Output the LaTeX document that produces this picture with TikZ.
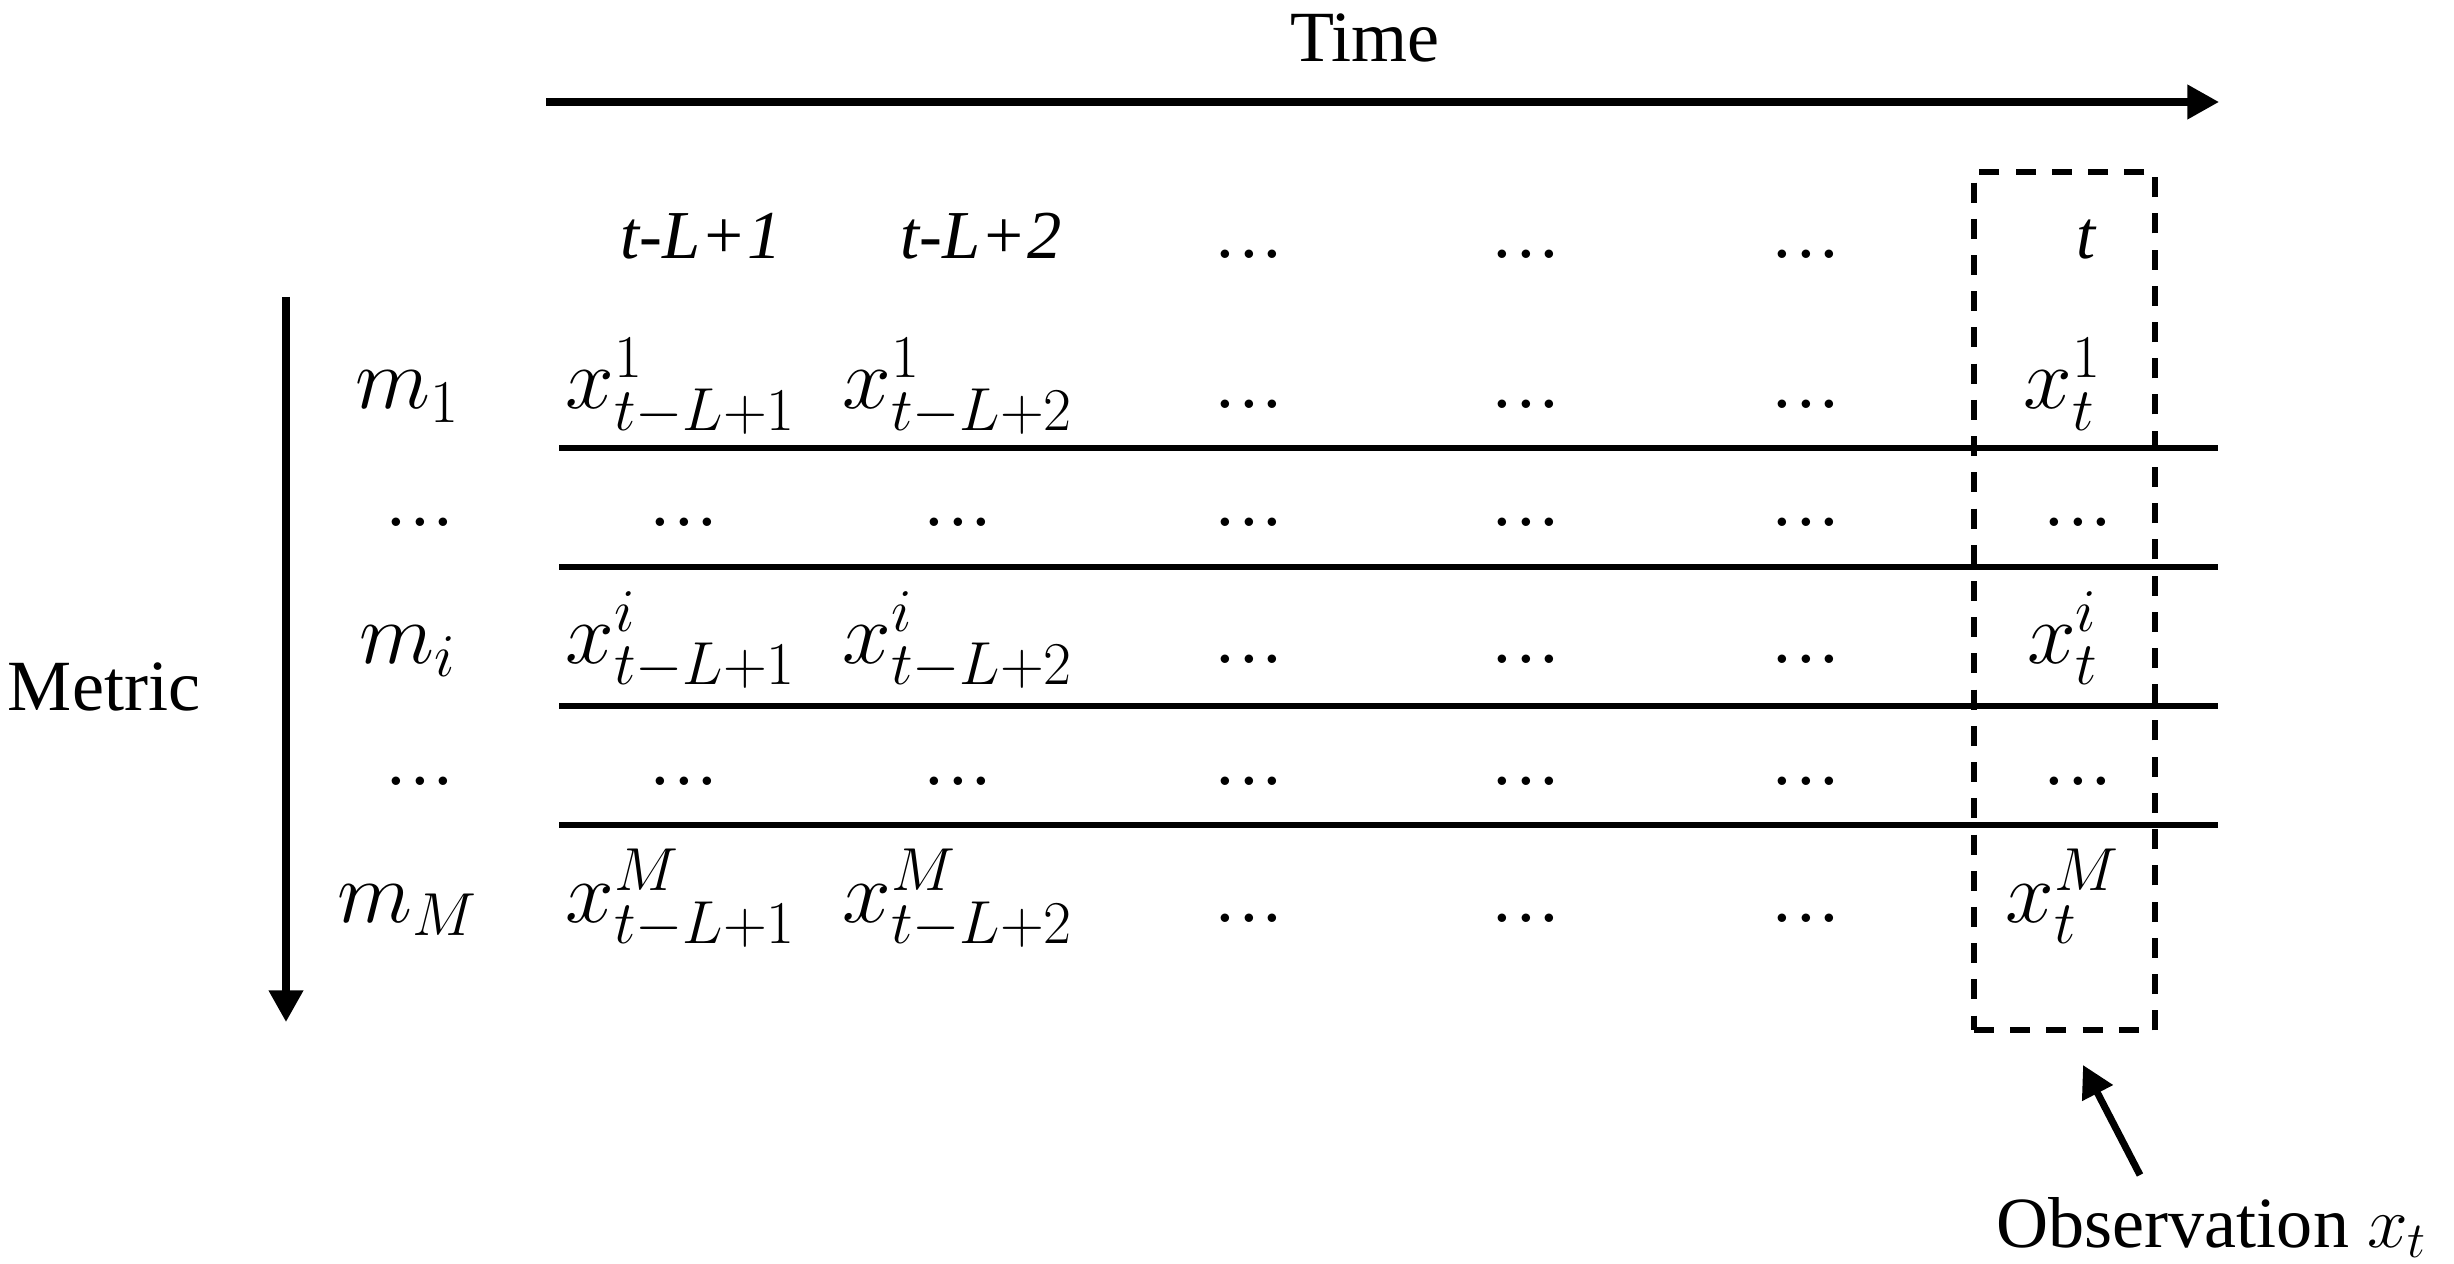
\documentclass[tikz,border=0pt]{standalone}
\usepackage{fontspec}
\setmainfont{Liberation Serif}
\usetikzlibrary{arrows.meta}
\begin{document}
\begin{tikzpicture}[x=0.01cm,y=-0.01cm,
  lbl/.style={inner sep=0pt, anchor=base, font=\fontsize{20.5}{24}\selectfont},
  hdr/.style={inner sep=0pt, anchor=base, font=\fontsize{19.5}{23}\selectfont\itshape},
  cell/.style={inner sep=0pt, anchor=base, font=\fontsize{25}{28}\selectfont},
  ell/.style={inner sep=0pt, anchor=base, font=\fontsize{24}{26}\selectfont},
  rowrule/.style={line width=1.8pt},
  arr/.style={line width=2pt, -{Triangle[width=9.4pt,length=9pt]}},
  obsbox/.style={draw, line width=1.7pt, dash pattern=on 5.7pt off 4.6pt, minimum width=1.81cm, minimum height=8.58cm, inner sep=0pt}
]
\useasboundingbox (0,0) rectangle (2454,1264);

% Time axis
\node[lbl] (time) at (1365,62) {Time};
\coordinate (tA) at (546,102);
\coordinate (tB) at (2219,102);
\draw[arr] (tA) -- (tB);

% Metric axis
\node[lbl] (metric) at (104,710) {Metric};
\coordinate (mA) at (286,297);
\coordinate (mB) at (286,1022);
\draw[arr] (mA) -- (mB);

% header row
\node[hdr] (h1) at (701,259) {t-L+1};
\node[hdr] (h2) at (981,259) {t-L+2};
\node[ell] (h3) at (1249,259) {$...$};
\node[ell] (h4) at (1526,259) {$...$};
\node[ell] (h5) at (1806,259) {$...$};
\node[hdr] (h6) at (2086,259) {t};

% row labels
\node[cell] (l1) at (408,409) {$m_1$};
\node[ell]  (l2) at (420,527) {$...$};
\node[cell] (l3) at (408,663) {$m_i$};
\node[ell]  (l4) at (420,785) {$...$};
\node[cell] (l5) at (408,922) {$m_M$};

% row 1
\node[cell] (a1) at (681,409) {$x^{1}_{t-L+1}$};
\node[cell] (a2) at (958,409) {$x^{1}_{t-L+2}$};
\node[ell]  (a3) at (1249,409) {$...$};
\node[ell]  (a4) at (1526,409) {$...$};
\node[ell]  (a5) at (1806,409) {$...$};
\node[cell] (a6) at (2063,409) {$x^{1}_{t}$};

% dots row 1
\node[ell] (b1) at (684,527) {$...$};
\node[ell] (b2) at (958,527) {$...$};
\node[ell] (b3) at (1249,527) {$...$};
\node[ell] (b4) at (1526,527) {$...$};
\node[ell] (b5) at (1806,527) {$...$};
\node[ell] (b6) at (2078,527) {$...$};

% row i
\node[cell] (c1) at (681,663) {$x^{i}_{t-L+1}$};
\node[cell] (c2) at (958,663) {$x^{i}_{t-L+2}$};
\node[ell]  (c3) at (1249,663) {$...$};
\node[ell]  (c4) at (1526,663) {$...$};
\node[ell]  (c5) at (1806,663) {$...$};
\node[cell] (c6) at (2063,663) {$x^{i}_{t}$};

% dots row 2
\node[ell] (d1) at (684,785) {$...$};
\node[ell] (d2) at (958,785) {$...$};
\node[ell] (d3) at (1249,785) {$...$};
\node[ell] (d4) at (1526,785) {$...$};
\node[ell] (d5) at (1806,785) {$...$};
\node[ell] (d6) at (2078,785) {$...$};

% row M
\node[cell] (e1) at (681,922) {$x^{M}_{t-L+1}$};
\node[cell] (e2) at (958,922) {$x^{M}_{t-L+2}$};
\node[ell]  (e3) at (1249,922) {$...$};
\node[ell]  (e4) at (1526,922) {$...$};
\node[ell]  (e5) at (1806,922) {$...$};
\node[cell] (e6) at (2063,922) {$x^{M}_{t}$};

% row rules
\foreach \k/\yy in {1/448,2/567,3/706,4/825}{
  \coordinate (r\k a) at (559,\yy);
  \coordinate (r\k b) at (2218,\yy);
  \draw[rowrule] (r\k a) -- (r\k b);
}

% observation window
\node[obsbox] (win) at (2064.5,601) {};
\node[lbl] (obs) at (2212,1247) {Observation $x_t$};
\coordinate (obsTail) at (2140,1175);
\coordinate (obsTip) at (2083,1065);
\draw[arr] (obsTail) -- (obsTip);
\end{tikzpicture}
\end{document}
